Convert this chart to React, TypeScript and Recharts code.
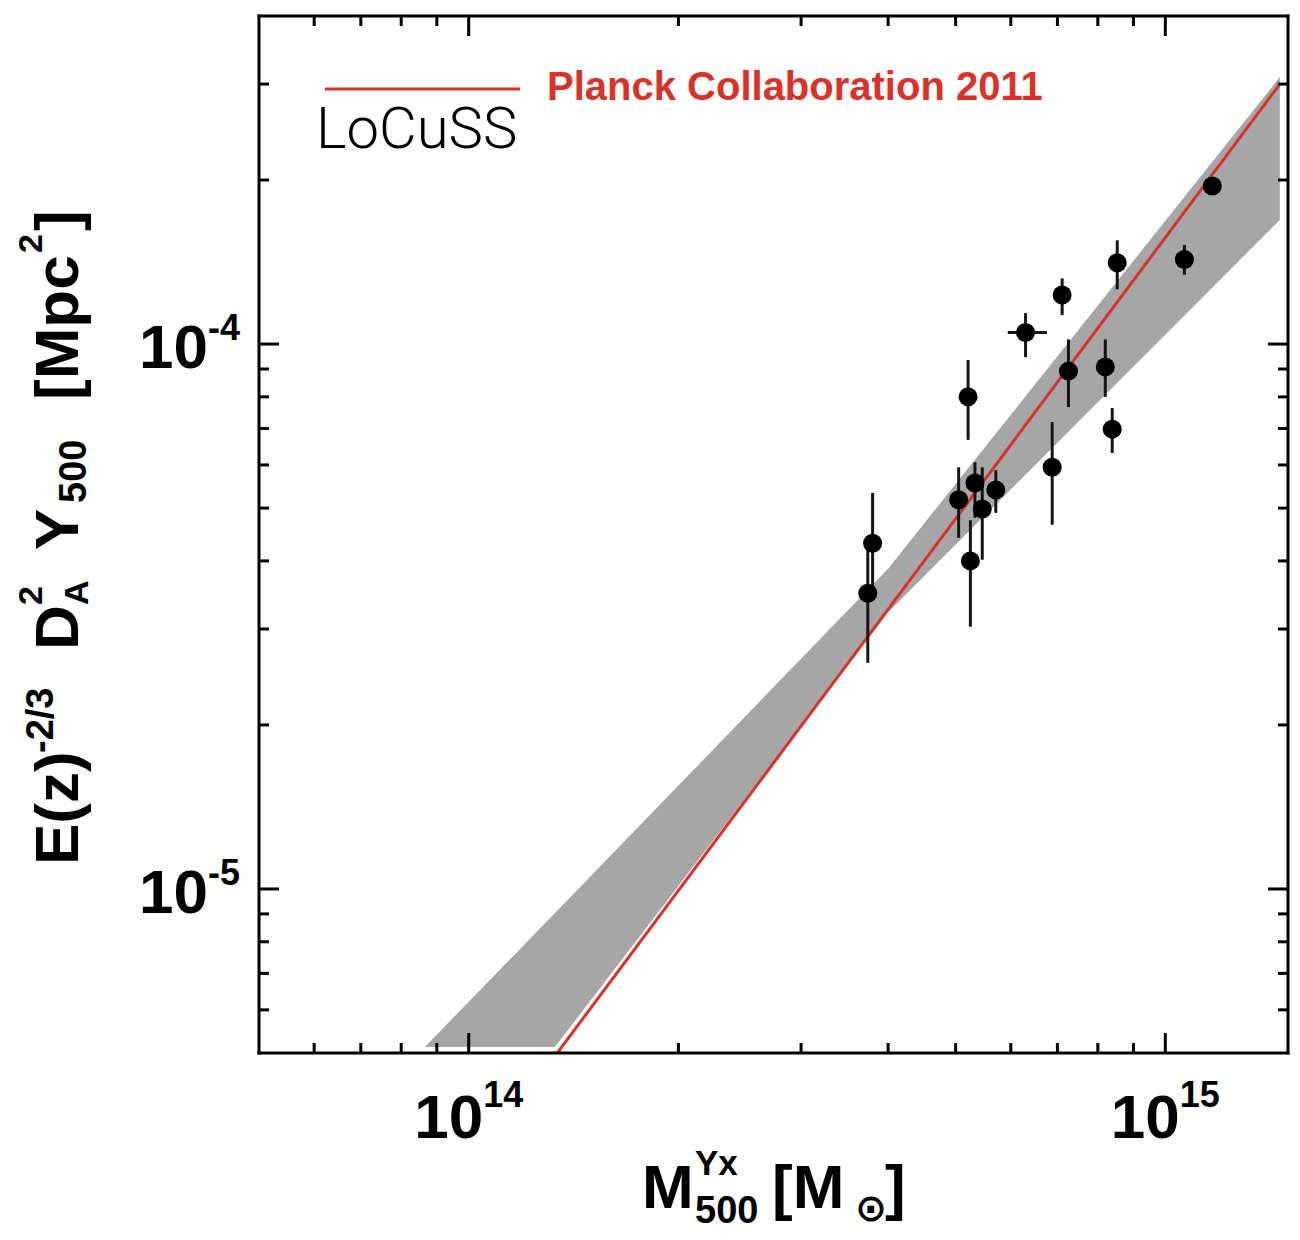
import React from 'react';
import { ComposedChart, Scatter, Line, Area, XAxis, YAxis, ErrorBar, Legend } from 'recharts';

// LoCuSS clusters: mass M500 (Yx proxy) and E(z)^-2/3 D_A^2 Y500 with 1-sigma bounds
const clusterMass = [1.168e15, 1.065e15, 8.53e14, 7.11e14, 6.30e14, 7.26e14, 8.20e14, 8.39e14, 5.21e14, 6.88e14, 3.80e14, 3.74e14, 5.05e14, 5.33e14, 5.46e14, 5.71e14, 5.25e14];
const clusterMassLow = [1.168e15, 1.065e15, 8.53e14, 7.11e14, 5.94e14, 7.26e14, 8.20e14, 8.39e14, 5.21e14, 6.88e14, 3.80e14, 3.74e14, 5.05e14, 5.33e14, 5.46e14, 5.71e14, 5.25e14];
const clusterMassHigh = [1.168e15, 1.065e15, 8.53e14, 7.11e14, 6.76e14, 7.26e14, 8.20e14, 8.39e14, 5.21e14, 6.88e14, 3.80e14, 3.74e14, 5.05e14, 5.33e14, 5.46e14, 5.71e14, 5.25e14];
const clusterY = [1.95e-4, 1.43e-4, 1.41e-4, 1.23e-4, 1.05e-4, 8.92e-5, 9.08e-5, 6.98e-5, 8.0e-5, 5.94e-5, 4.31e-5, 3.49e-5, 5.18e-5, 5.56e-5, 4.98e-5, 5.40e-5, 4.00e-5];
const clusterYLow = [1.90e-4, 1.34e-4, 1.26e-4, 1.13e-4, 9.46e-5, 7.66e-5, 8.0e-5, 6.31e-5, 6.67e-5, 4.66e-5, 3.5e-5, 2.60e-5, 4.41e-5, 4.8e-5, 4.02e-5, 4.90e-5, 3.03e-5];
const clusterYHigh = [2.00e-4, 1.52e-4, 1.55e-4, 1.32e-4, 1.14e-4, 1.02e-4, 1.02e-4, 7.63e-5, 9.35e-5, 7.19e-5, 5.33e-5, 4.3e-5, 5.94e-5, 6.07e-5, 5.94e-5, 5.87e-5, 4.75e-5];

// Fit uncertainty envelope (lower / upper edge at each vertex mass)
const bandMass = [8.65e13, 1.33e14, 4.0e14, 1.46e15];
const bandLow = [5.13e-6, 5.13e-6, 3.22e-5, 1.69e-4];
const bandHigh = [5.13e-6, 9.03e-6, 3.87e-5, 3.09e-4];

// Planck Collaboration 2011 scaling relation
const planckMass = [1.34e14, 1.46e15];
const planckY = [5.0e-6, 3.0e-4];

// Axis ticks (log decades with minor ticks)
const xTicks = [6e13, 7e13, 8e13, 9e13, 1e14, 2e14, 3e14, 4e14, 5e14, 6e14, 7e14, 8e14, 9e14, 1e15];
const yTicks = [6e-6, 7e-6, 8e-6, 9e-6, 1e-5, 2e-5, 3e-5, 4e-5, 5e-5, 6e-5, 7e-5, 8e-5, 9e-5, 1e-4, 2e-4, 3e-4];
const xDomain = [5e13, 1.5e15];
const yDomain = [5e-6, 4e-4];

const PLANCK_NAME = 'Planck Collaboration 2011';
const SAMPLE_NAME = 'LoCuSS';

const RED = '#d8332a';
const BAND = '#a6a6a6';
const FONT = '"Liberation Sans", Arial, Helvetica, sans-serif';

const bandData = bandMass.map((m, i) => ({ m, band: [bandLow[i], bandHigh[i]] }));
const planckData = planckMass.map((m, i) => ({ m, y: planckY[i] }));
const clusterData = clusterMass.map((m, i) => ({
  m,
  y: clusterY[i],
  yErr: [clusterY[i] - clusterYLow[i], clusterYHigh[i] - clusterY[i]],
  xErr: [m - clusterMassLow[i], clusterMassHigh[i] - m],
}));

const AxisTick = (props: any) => {
  const { x, y, payload, side } = props;
  const v = payload.value;
  const lg = Math.log10(v);
  const exp = Math.round(lg);
  const major = Math.abs(lg - exp) < 1e-6;
  const len = major ? 20 : 10;
  let x2 = x;
  let y2 = y;
  if (side === 'bottom') y2 = y - len;
  if (side === 'top') y2 = y + len;
  if (side === 'left') x2 = x + len;
  if (side === 'right') x2 = x - len;
  return (
    <g>
      <line x1={x} y1={y} x2={x2} y2={y2} stroke="#000" strokeWidth={3} />
      {major && side === 'bottom' && (
        <text x={x} y={y + 85} textAnchor="middle" fontFamily={FONT} fontWeight="bold" fontSize={62} fill="#000">
          10<tspan dy={-31} fontSize={36}>{String(exp)}</tspan>
        </text>
      )}
      {major && side === 'left' && (
        <text x={x - 19} y={y + 24} textAnchor="end" fontFamily={FONT} fontWeight="bold" fontSize={62} fill="#000">
          10<tspan dy={-28} fontSize={36}>{String(exp)}</tspan>
        </text>
      )}
    </g>
  );
};

const XTitle = (props: any) => {
  const vb = props.viewBox || { x: 0, y: 0 };
  const x0 = vb.x;
  const y0 = vb.y;
  return (
    <text fontFamily={FONT} fontWeight="bold" fill="#000">
      <tspan x={x0 + 383} y={y0 + 155} fontSize={62}>M</tspan>
      <tspan x={x0 + 436} y={y0 + 122} fontSize={35}>Yx</tspan>
      <tspan x={x0 + 436} y={y0 + 170} fontSize={38}>500</tspan>
      <tspan x={x0 + 513} y={y0 + 155} fontSize={62}>[M</tspan>
      <tspan x={x0 + 596} y={y0 + 168} fontSize={38} fontFamily='"DejaVu Sans", sans-serif'>⊙</tspan>
      <tspan x={x0 + 626} y={y0 + 155} fontSize={62}>]</tspan>
    </text>
  );
};

const YTitle = (props: any) => {
  const vb = props.viewBox || { x: 0, y: 0 };
  const bx = vb.x + 70;
  const by = vb.y + 849;
  return (
    <g transform={`translate(${bx},${by}) rotate(-90)`}>
      <text fontFamily={FONT} fontWeight="bold" fill="#000">
        <tspan x={0} y={0} fontSize={62}>E(z)</tspan>
        <tspan x={112} y={-25} fontSize={38}>-2/3</tspan>
        <tspan x={215} y={0} fontSize={62}>D</tspan>
        <tspan x={260} y={-36} fontSize={34}>2</tspan>
        <tspan x={260} y={10} fontSize={34}>A</tspan>
        <tspan x={315} y={0} fontSize={62}>Y</tspan>
        <tspan x={362} y={8} fontSize={38}>500</tspan>
        <tspan x={465} y={0} fontSize={62}>[Mpc</tspan>
        <tspan x={612} y={-36} fontSize={34}>2</tspan>
        <tspan x={634} y={0} fontSize={62}>]</tspan>
      </text>
    </g>
  );
};

const LegendBox = () => (
  <svg width={780} height={110} style={{ display: 'block', overflow: 'visible' }}>
    <line x1={17} y1={31} x2={212} y2={31} stroke={RED} strokeWidth={3} />
    <text x={239} y={42} fill={RED} fontSize={40} fontWeight="bold" fontFamily={FONT}>{PLANCK_NAME}</text>
    <text x={8} y={90} fill="#000" fontSize={58} fontWeight={300} fontFamily="Roboto, sans-serif">{SAMPLE_NAME}</text>
  </svg>
);

const Dot = (p: any) => <circle cx={p.cx} cy={p.cy} r={9.5} fill="#000" />;

export default function App() {
  const axisLine = { stroke: '#000', strokeWidth: 3, strokeLinecap: 'square' as const };
  return (
    <ComposedChart
      width={1290}
      height={1224}
      data={bandData}
      margin={{ top: 0, right: 0, bottom: 0, left: 0 }}
      style={{ background: '#fff' }}
    >
      <XAxis
        dataKey="m"
        type="number"
        scale="log"
        domain={xDomain}
        allowDataOverflow
        ticks={xTicks}
        interval={0}
        tickLine={false}
        tickSize={0}
        tickMargin={0}
        axisLine={axisLine}
        height={179}
        tick={(p: any) => <AxisTick {...p} side="bottom" />}
        label={{ content: (p: any) => <XTitle {...p} /> }}
      />
      <XAxis
        xAxisId="top"
        orientation="top"
        dataKey="m"
        type="number"
        scale="log"
        domain={xDomain}
        allowDataOverflow
        ticks={xTicks}
        interval={0}
        tickLine={false}
        tickSize={0}
        tickMargin={0}
        axisLine={axisLine}
        height={8}
        tick={(p: any) => <AxisTick {...p} side="top" />}
      />
      <YAxis
        type="number"
        scale="log"
        domain={yDomain}
        allowDataOverflow
        ticks={yTicks}
        interval={0}
        tickLine={false}
        tickSize={0}
        tickMargin={0}
        axisLine={axisLine}
        width={251}
        tick={(p: any) => <AxisTick {...p} side="left" />}
        label={{ content: (p: any) => <YTitle {...p} /> }}
      />
      <YAxis
        yAxisId="right"
        orientation="right"
        type="number"
        scale="log"
        domain={yDomain}
        allowDataOverflow
        ticks={yTicks}
        interval={0}
        tickLine={false}
        tickSize={0}
        tickMargin={0}
        axisLine={axisLine}
        width={10}
        tick={(p: any) => <AxisTick {...p} side="right" />}
      />
      <Area
        dataKey="band"
        type="linear"
        fill={BAND}
        fillOpacity={1}
        stroke="none"
        isAnimationActive={false}
        legendType="none"
      />
      <Line
        data={planckData}
        dataKey="y"
        name={PLANCK_NAME}
        type="linear"
        stroke={RED}
        strokeWidth={3}
        dot={false}
        activeDot={false}
        isAnimationActive={false}
      />
      <Scatter
        data={clusterData}
        dataKey="y"
        name={SAMPLE_NAME}
        fill="#000"
        shape={Dot}
        isAnimationActive={false}
      >
        <ErrorBar dataKey="yErr" direction="y" width={0} stroke="#151515" strokeWidth={3} isAnimationActive={false} />
        <ErrorBar dataKey="xErr" direction="x" width={0} stroke="#151515" strokeWidth={3} isAnimationActive={false} />
      </Scatter>
      <Legend
        layout="horizontal"
        verticalAlign="middle"
        align="center"
        wrapperStyle={{ left: 300, top: 50, width: 780, height: 110 }}
        content={() => <LegendBox />}
      />
    </ComposedChart>
  );
}
